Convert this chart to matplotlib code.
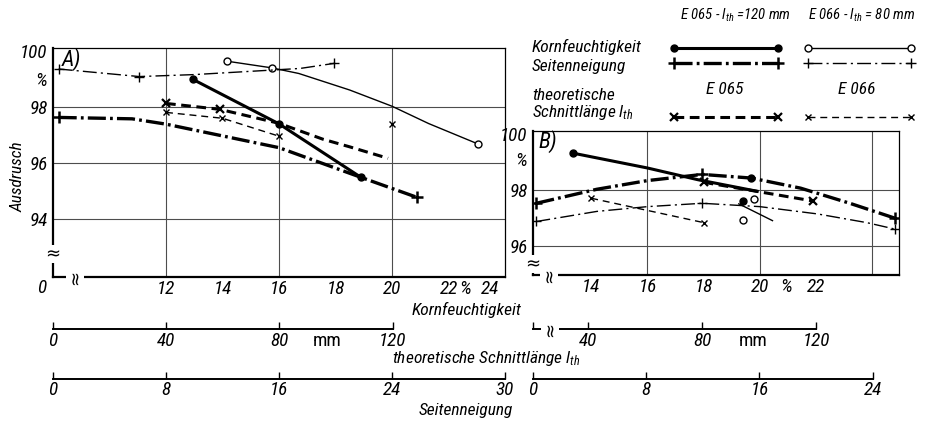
import matplotlib
matplotlib.use('Agg')
import matplotlib.pyplot as plt
from matplotlib import font_manager

# narrow technical lettering: take the narrowest family that is installed
avail = {f.name for f in font_manager.fontManager.ttflist}
fs_scale = 0.8
font_name = 'DejaVu Sans'
for name, sc in [('Liberation Sans Narrow', 1.0), ('DejaVu Sans Condensed', 0.92),
                 ('Roboto Condensed', 1.0), ('Open Sans Condensed', 1.0), ('Roboto', 0.88)]:
    if name in avail:
        font_name, fs_scale = name, sc
        break
plt.rcParams['font.family'] = [font_name, 'DejaVu Sans']
plt.rcParams['font.style'] = 'italic'
plt.rcParams['mathtext.fontset'] = 'custom'
plt.rcParams['mathtext.it'] = font_name + ':italic'
plt.rcParams['mathtext.rm'] = font_name
plt.rcParams['lines.scale_dashes'] = False

W, H = 926, 424

# ---- Panel A (E 065 / E 066), y = Ausdrusch in %
a_e065_korn_x = [12.95, 16.0, 18.9]
a_e065_korn_y = [98.98, 97.39, 95.48]
a_e066_korn_x = [14.15, 15.75, 16.7, 18.5, 20.0, 21.3, 23.05]
a_e066_korn_y = [99.63, 99.39, 99.19, 98.6, 98.02, 97.4, 96.67]
a_e065_seiten_deg = [0.4, 5.6, 8, 16, 21.8, 25.8]
a_e065_seiten_y = [97.62, 97.57, 97.38, 96.54, 95.48, 94.76]
a_e066_seiten_deg = [0.4, 6.1, 10, 17.5, 19.9]
a_e066_seiten_y = [99.35, 99.08, 99.15, 99.37, 99.55]
a_e065_schnitt_mm = [40, 59, 80, 95.6, 105, 118.6]
a_e065_schnitt_y = [98.12, 97.91, 97.41, 96.84, 96.57, 96.16]
a_e066_schnitt_mm = [40, 60, 80]
a_e066_schnitt_y = [97.8, 97.59, 96.95]
a_e066_extra_mm = [120]
a_e066_extra_y = [97.4]

# ---- Panel B
b_e065_korn_x = [13.35, 16.0, 17.8, 19.9]
b_e065_korn_y = [99.31, 98.78, 98.36, 97.95]
b_e065_dots_x = [19.7, 19.4]
b_e065_dots_y = [98.42, 97.6]
b_e066_korn_x = [19.25, 20.45]
b_e066_korn_y = [97.5, 96.9]
b_e066_circ_x = [19.8, 19.4]
b_e066_circ_y = [97.68, 96.93]
b_e065_seiten_deg = [0.1, 4.4, 8, 11.9, 15.4, 18.9, 22.4, 25.6]
b_e065_seiten_y = [97.52, 98.02, 98.33, 98.55, 98.42, 98.06, 97.52, 96.99]
b_e066_seiten_deg = [0.1, 4.4, 8, 11.9, 16, 20.1, 23.6, 25.6]
b_e066_seiten_y = [96.87, 97.23, 97.4, 97.52, 97.4, 97.14, 96.83, 96.6]
b_e065_schnitt_mm = [80, 119]
b_e065_schnitt_y = [98.27, 97.6]
b_e066_schnitt_mm = [40, 80]
b_e066_schnitt_y = [97.7, 96.83]

a_xticks = [12, 14, 16, 18, 20, 22, 22.6, 23.45]
a_xlabels = ['12', '14', '16', '18', '20', '22', '%', '24']
a_yticks = [100, 99, 98, 96, 94]
a_ylabels = ['100', '%', '98', '96', '94']
b_xticks = [14, 16, 18, 20, 20.95, 22]
b_xlabels = ['14', '16', '18', '20', '%', '22']
b_yticks = [100, 99.1, 98, 96]
b_ylabels = ['100', '%', '98', '96']

FS_TICK = 13.8 * fs_scale
FS_TEXT = 12.5 * fs_scale

# styles
thick_solid = dict(color='k', lw=2.2)
thin_solid = dict(color='k', lw=1.0)
thick_dd = dict(color='k', lw=2.4, dashes=(13, 3, 2, 3))
thin_dd = dict(color='k', lw=1.0, dashes=(10, 3, 1.5, 3))
thick_da = dict(color='k', lw=2.2, dashes=(7, 4))
thin_da = dict(color='k', lw=1.0, dashes=(5, 3.5))
m_dot = dict(marker='o', ms=5, mfc='k', mec='k')
m_circ = dict(marker='o', ms=5, mfc='white', mec='k', mew=1.0)
m_plus_b = dict(marker='+', ms=8, mec='k', mew=1.8)
m_plus = dict(marker='+', ms=7, mec='k', mew=1.0)
m_x_b = dict(marker='x', ms=6, mec='k', mew=1.6)
m_x = dict(marker='x', ms=5, mec='k', mew=1.0)

fig = plt.figure(figsize=(W / 100, H / 100), dpi=100)


def px_axes(left, top, right, bottom):
    return fig.add_axes([left / W, 1 - bottom / H, (right - left) / W, (bottom - top) / H])


ov = px_axes(0, 0, W, H)
ov.set_xlim(0, W)
ov.set_ylim(H, 0)
ov.axis('off')


def setup_panel(ax, xlim, ylim, xt, xl, yt, yl, vgrid, hgrid):
    ax.set_xlim(*xlim)
    ax.set_ylim(*ylim)
    ax.set_xticks(xt, xl)
    ax.set_yticks(yt, yl)
    ax.tick_params(length=0, labelsize=FS_TICK, pad=4)
    ax.tick_params(axis='x', pad=2)
    for v in vgrid:
        ax.axvline(v, color='0.3', lw=0.8, zorder=0)
    for h in hgrid:
        ax.axhline(h, color='0.3', lw=0.8, zorder=0)
    ax.spines['left'].set_linewidth(1.6)
    ax.spines['bottom'].set_linewidth(1.6)
    ax.spines['top'].set_linewidth(0.9)
    ax.spines['right'].set_linewidth(0.9)
    ax.patch.set_alpha(0)


def curve(ax, x, y, line, mark=None, idx=None):
    ax.plot(x, y, **line)
    if mark is not None:
        if idx is None:
            idx = range(len(x))
        ax.plot([x[i] for i in idx], [y[i] for i in idx], ls='none', **mark)


def brk(ax, x, y, rot, transform):
    ax.text(x, y, '≈', transform=transform, rotation=rot, ha='center', va='center',
            fontsize=13, family='DejaVu Sans', style='normal',
            bbox=dict(fc='white', ec='none', pad=0), clip_on=False, zorder=5)


# ---- panel A
axA = px_axes(53, 48, 505, 277)
setup_panel(axA, (8, 24), (91.92, 100.1), a_xticks, a_xlabels, a_yticks, a_ylabels,
            [12, 16, 20], [98, 96, 94])
mmA = lambda mm: [8 + v / 10 for v in mm]
degA = lambda d: [8 + v / 2 for v in d]
curve(axA, a_e065_korn_x, a_e065_korn_y, thick_solid, m_dot)
curve(axA, a_e066_korn_x, a_e066_korn_y, thin_solid, m_circ, [0, 1, 6])
curve(axA, degA(a_e065_seiten_deg), a_e065_seiten_y, thick_dd, m_plus_b, [0, 5])
curve(axA, degA(a_e066_seiten_deg), a_e066_seiten_y, thin_dd, m_plus, [0, 1, 4])
curve(axA, mmA(a_e065_schnitt_mm), a_e065_schnitt_y, thick_da, m_x_b, [0, 1])
curve(axA, mmA(a_e066_schnitt_mm), a_e066_schnitt_y, thin_da, m_x)
axA.plot(mmA(a_e066_extra_mm), a_e066_extra_y, ls='none', **m_x)
axA.text(7.75, -0.01, '0', transform=axA.get_xaxis_transform(), ha='right', va='top', fontsize=FS_TICK)
brk(axA, 0, 92.74, 0, axA.get_yaxis_transform())
brk(axA, 8.78, 0, 90, axA.get_xaxis_transform())

# ---- panel B
axB = px_axes(533, 131, 899, 275)
setup_panel(axB, (11.93, 24.95), (94.96, 100.1), b_xticks, b_xlabels, b_yticks, b_ylabels,
            [16, 20, 24], [98, 96])
mmB = lambda mm: [10 + v / 10 for v in mm]
degB = lambda d: [12 + v / 2 for v in d]
curve(axB, b_e065_korn_x, b_e065_korn_y, thick_solid, m_dot, [0])
axB.plot(b_e065_dots_x, b_e065_dots_y, ls='none', **m_dot)
curve(axB, b_e066_korn_x, b_e066_korn_y, thin_solid)
axB.plot(b_e066_circ_x, b_e066_circ_y, ls='none', **m_circ)
curve(axB, degB(b_e065_seiten_deg), b_e065_seiten_y, thick_dd, m_plus_b, [0, 3, 7])
curve(axB, degB(b_e066_seiten_deg), b_e066_seiten_y, thin_dd, m_plus, [0, 3, 7])
curve(axB, mmB(b_e065_schnitt_mm), b_e065_schnitt_y, thick_da, m_x_b)
curve(axB, mmB(b_e066_schnitt_mm), b_e066_schnitt_y, thin_da, m_x)
brk(axB, 0, 95.35, 0, axB.get_yaxis_transform())
brk(axB, 12.5, 0, 90, axB.get_xaxis_transform())


# ---- secondary scales below the panels
def scale_axis(left, right, y, lim, ticks, labels):
    ax = fig.add_axes([left / W, 1 - y / H, (right - left) / W, 0.02])
    ax.set_xlim(*lim)
    ax.set_ylim(0, 1)
    for s in ['left', 'right', 'top']:
        ax.spines[s].set_visible(False)
    ax.spines['bottom'].set_linewidth(1.4)
    ax.set_yticks([])
    ax.set_xticks(ticks, labels)
    ax.tick_params(direction='in', length=5, width=1, pad=2, labelsize=FS_TICK)
    ax.patch.set_alpha(0)
    return ax


scale_axis(53, 392.7, 329.3, (0, 120), [0, 40, 80, 120], ['0', '40', '80', '120'])
sb = scale_axis(533, 816, 329.3, (20.5, 120), [20.5, 40, 80, 120], ['', '40', '80', '120'])
brk(sb, 26.5, 0, 90, sb.get_xaxis_transform())
scale_axis(53, 505, 378.7, (0, 32), [0, 8, 16, 24, 32], ['0', '8', '16', '24', '30'])
scale_axis(533, 872.7, 378.7, (0, 24), [0, 8, 16, 24], ['0', '8', '16', '24'])

# ---- texts
tk = dict(fontsize=FS_TEXT)
ov.text(327, 341, 'mm', ha='center', va='center', style='normal', fontsize=FS_TICK)
ov.text(753, 341, 'mm', ha='center', va='center', style='normal', fontsize=FS_TICK)
ov.text(467, 310, 'Kornfeuchtigkeit', ha='center', va='center', **tk)
ov.text(486, 359, 'theoretische Schnittlänge $l_{th}$', ha='center', va='center', **tk)
ov.text(466, 411, 'Seitenneigung', ha='center', va='center', **tk)
ov.text(18, 177, 'Ausdrusch', rotation=90, ha='center', va='center', **tk)
ov.text(62, 60, 'A)', ha='left', va='center', fontsize=16 * fs_scale)
ov.text(538, 142, 'B)', ha='left', va='center', fontsize=16 * fs_scale)

# ---- legend block
hd = dict(fontsize=FS_TEXT * 0.85)
ov.text(735, 15, 'E 065 - $l_{th}$ =120 mm', ha='center', va='center', **hd)
ov.text(862, 15, 'E 066 - $l_{th}$ = 80 mm', ha='center', va='center', **hd)
ov.text(532, 47, 'Kornfeuchtigkeit', ha='left', va='center', **tk)
ov.text(532, 67, 'Seitenneigung', ha='left', va='center', **tk)
ov.text(532, 95, 'theoretische', ha='left', va='center', **tk)
ov.text(532, 113, 'Schnittlänge $l_{th}$', ha='left', va='center', **tk)
ov.text(725, 90, 'E 065', ha='center', va='center', **tk)
ov.text(857, 90, 'E 066', ha='center', va='center', **tk)
leg_rows = [(48, thick_solid, m_dot, thin_solid, m_circ),
            (63, thick_dd, m_plus_b, thin_dd, m_plus),
            (117, thick_da, m_x_b, thin_da, m_x)]
for yy, l1, mk1, l2, mk2 in leg_rows:
    curve(ov, [674, 778], [yy, yy], l1, mk1)
    curve(ov, [808, 911], [yy, yy], l2, mk2)

fig.savefig('out.png', dpi=100, facecolor='white')
